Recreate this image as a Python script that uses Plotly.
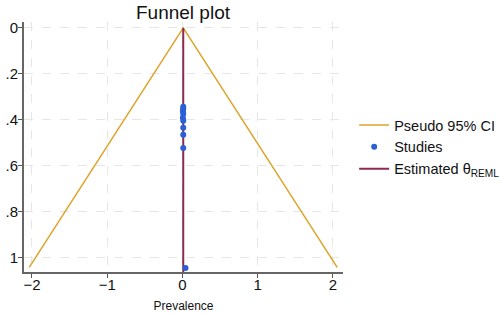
import plotly.graph_objects as go

# Data
theta = 0.01
study_est = [0.01, 0.01, 0.005, 0.01, 0.005, 0.01, 0.01, 0.01, 0.01, 0.04]
study_se = [0.343, 0.352, 0.362, 0.374, 0.392, 0.405, 0.435, 0.466, 0.523, 1.047]
funnel_se = [1.044, 0.0, 1.044]
x_ticks = [-2, -1, 0, 1, 2]
y_ticks = [0, 0.2, 0.4, 0.6, 0.8, 1]
y_ticktext = ["0", ".2", ".4", ".6", ".8", "1"]

funnel_x = [theta - 1.96 * funnel_se[0], theta, theta + 1.96 * funnel_se[2]]

FONT = "Liberation Sans, Arial, sans-serif"

fig = go.Figure()
fig.add_trace(go.Scatter(
    x=funnel_x, y=funnel_se, mode="lines",
    line=dict(color="#DDA42A", width=1.5),
    name="Pseudo 95% CI", legendrank=1))
fig.add_trace(go.Scatter(
    x=[theta, theta], y=[0, 1.064], mode="lines",
    line=dict(color="#8E2A50", width=2),
    name="Estimated θ<sub>REML</sub>", legendrank=3))
fig.add_trace(go.Scatter(
    x=study_est, y=study_se, mode="markers",
    marker=dict(color="#2a5fd6", size=6),
    name="Studies", legendrank=2))

fig.update_layout(
    width=500, height=316,
    margin=dict(l=24, r=157, t=22, b=44, autoexpand=False),
    paper_bgcolor="white", plot_bgcolor="white",
    font=dict(family=FONT, color="#111", size=14),
    title=dict(text="Funnel plot", x=0.366, xanchor="center", y=0.96, yanchor="middle",
               font=dict(size=19, family=FONT, color="#111"), automargin=False),
    showlegend=True,
    legend=dict(x=1.035, y=0.5, xanchor="left", yanchor="middle",
                font=dict(size=14.5, family=FONT, color="#111"),
                itemwidth=30,
                tracegroupgap=0, bgcolor="rgba(0,0,0,0)"),
    xaxis=dict(range=[-2.106, 2.133], tickvals=x_ticks, ticks="outside", ticklen=4,
               tickcolor="#555", showline=True, linecolor="#666", linewidth=2,
               showgrid=True, gridcolor="#e6e6e6", griddash="dash", gridwidth=1,
               zeroline=False, tickfont=dict(size=15), automargin=False,
               ticklabelstandoff=-6,
               title=dict(text="Prevalence", font=dict(size=12), standoff=10)),
    yaxis=dict(range=[1.064, -0.026], tickvals=y_ticks, ticktext=y_ticktext,
               ticks="outside", ticklen=4, tickcolor="#555", automargin=False,
               ticklabelstandoff=-3,
               showline=True, linecolor="#666", linewidth=2,
               showgrid=True, gridcolor="#e6e6e6", griddash="dash", gridwidth=1,
               zeroline=False, tickfont=dict(size=15)),
)

fig.write_html("out.html", post_script="document.body.style.margin='0';",
               config={"displayModeBar": False})
